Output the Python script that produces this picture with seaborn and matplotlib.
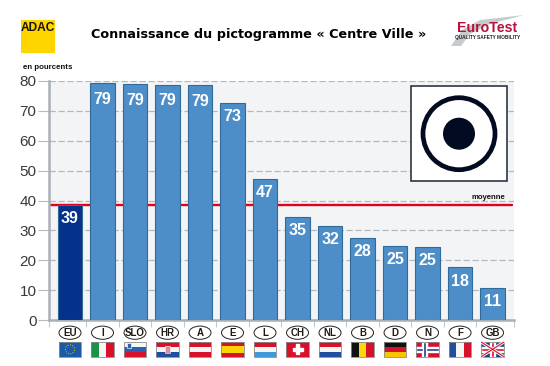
import pandas as pd
import matplotlib
matplotlib.use("Agg")
import matplotlib.pyplot as plt
from matplotlib.patches import Rectangle, Circle, Ellipse, Polygon
import seaborn as sns

# Valeurs
pays = ["EU", "I", "SLO", "HR", "A", "E", "L", "CH", "NL", "B", "D", "N", "F", "GB"]
hauteurs = [38.5, 79.3, 79.0, 78.7, 78.5, 72.8, 47.2, 34.6, 31.6, 27.6, 24.9, 24.4, 17.6, 10.8]
etiquettes = ["39", "79", "79", "79", "79", "73", "47", "35", "32", "28", "25", "25", "18", "11"]
moyenne = 38.5
yticks = [0, 10, 20, 30, 40, 50, 60, 70, 80]

titre = "Connaissance du pictogramme « Centre Ville »"

W, H = 550, 366
SANS = "Liberation Sans"

df = pd.DataFrame({"pays": pays, "valeur": hauteurs})

sns.set_theme(style="white")
plt.rcParams["font.family"] = [SANS, "DejaVu Sans"]

fig = plt.figure(figsize=(5.5, 3.66), dpi=100, facecolor="white")
ax = fig.add_axes([49 / W, 1 - 320 / H, (514 - 49) / W, (320 - 81) / H], facecolor="#F3F4F6")

couleurs = ["#04318A"] + ["#4E8EC8"] * 13
sns.barplot(data=df, x="pays", y="valeur", hue="pays", order=pays, palette=couleurs,
            legend=False, width=0.75, saturation=1, linewidth=0.8, edgecolor="#2F6A99",
            ax=ax, zorder=3)

ax.set_xlim(-0.646, 13.66)
ax.set_ylim(0, 80)
ax.set_xlabel("")
ax.set_ylabel("")
ax.set_xticks([-0.646] + [i + 0.5 for i in range(13)] + [13.66])
ax.set_xticklabels([])
ax.set_yticks(yticks)
ax.set_yticklabels(yticks, fontsize=11, color="#3A3A3A")
ax.tick_params(axis="y", length=8, width=0.8, color="#B5BBC0", pad=1, left=True)
ax.tick_params(axis="x", length=5, width=0.8, color="#C4C9CD", bottom=True)

ax.grid(axis="y", color="#B4B9BD", linestyle=(0, (5, 2.2)), linewidth=0.9, zorder=1)
ax.set_axisbelow(True)
ax.axhline(moyenne, xmin=0.003, xmax=0.996, color="#E2001A", linewidth=1.7, zorder=2)

for s in ["top", "right"]:
    ax.spines[s].set_visible(False)
for s in ["left", "bottom"]:
    ax.spines[s].set_color("#A8B0B6")
    ax.spines[s].set_linewidth(1.8)

# Etiquettes dans les barres
for i, (v, t) in enumerate(zip(hauteurs, etiquettes)):
    decalage = -6.2 if v > 75 else -4.4
    ax.annotate(t, (i, v), xytext=(0, decalage), textcoords="offset points", ha="center", va="top",
                color="white", fontsize=11.5, fontweight="bold", zorder=4)

# Calque en pixels pour logos, pictogramme et drapeaux
ov = fig.add_axes([0, 0, 1, 1])
ov.set_xlim(0, W)
ov.set_ylim(H, 0)
ov.axis("off")
ov.patch.set_alpha(0)

ov.text(23, 67.5, "en pourcents", fontsize=5.7, fontweight="bold", color="#111111", va="center")
ov.text(472, 197.7, "moyenne", fontsize=5.6, fontweight="bold", color="#111111", ha="left", va="center")
ov.text(259, 34.5, titre, fontsize=9.15, fontweight="bold", color="black", ha="center", va="center",
        family=["DejaVu Sans"])

# Logo ADAC
ov.add_patch(Rectangle((21, 20), 34, 33, facecolor="#FFD500", edgecolor="none"))
ov.text(38.2, 28, "ADAC", fontsize=8.6, fontweight="bold", ha="center", va="center", color="#15110A")

# Logo EuroTest
ov.add_patch(Polygon([(451, 46), (462, 30), (480, 20), (524, 15), (490, 24), (470, 34), (461, 46)],
                     facecolor="#C8CBCD", edgecolor="none"))
ov.text(487, 28.5, "EuroTest", fontsize=10.2, fontweight="bold", ha="center", va="center", color="#B5123E")
ov.text(487.5, 37.5, "QUALITY SAFETY MOBILITY", fontsize=3.4, fontweight="bold", ha="center", va="center", color="#222222")

# Pictogramme
nuit = "#030B22"
ov.add_patch(Rectangle((410.7, 85.7), 96, 95.3, facecolor="white", edgecolor="#1B2438", linewidth=1.1, zorder=5))
ov.add_patch(Circle((459, 133.7), 36, facecolor="none", edgecolor=nuit, linewidth=3.4, zorder=6))
ov.add_patch(Circle((459, 133.7), 16, facecolor=nuit, edgecolor="none", zorder=6))


def bandes(x, y, w, h, cols, vertical=False):
    n = len(cols)
    for k, c in enumerate(cols):
        if vertical:
            ov.add_patch(Rectangle((x + k * w / n, y), w / n, h, facecolor=c, edgecolor="none"))
        else:
            ov.add_patch(Rectangle((x, y + k * h / n), w, h / n, facecolor=c, edgecolor="none"))


rouge, bleu, blanc = "#D8112B", "#1D4E9E", "#F5F5F5"
drapeaux = {
    "EU": (["#1B5AA6"], False),
    "I": (["#1E9146", blanc, rouge], True),
    "SLO": ([blanc, "#2B5FB0", rouge], False),
    "HR": ([rouge, blanc, "#1E4E9C"], False),
    "A": ([rouge, blanc, rouge], False),
    "E": ([rouge, "#FBD500", "#FBD500", rouge], False),
    "L": ([rouge, blanc, "#3F9BD8"], False),
    "CH": ([rouge], False),
    "NL": ([rouge, blanc, "#1E4E9C"], False),
    "B": (["#111111", "#F8D80F", rouge], True),
    "D": (["#111111", rouge, "#F8C400"], False),
    "N": ([rouge], False),
    "F": (["#1E4E9C", blanc, rouge], True),
    "GB": (["#1E3F8A"], False),
}

fw, fh = 22.7, 14.7
fy = 342
for i, p in enumerate(pays):
    px, _ = ax.transData.transform((i, 0))
    cx = px * W / fig.bbox.width
    # Ovale du code pays
    ov.add_patch(Ellipse((cx, 332.7), 22, 13.2, facecolor="white", edgecolor="#222222", linewidth=0.7))
    ov.text(cx, 332.9, p, fontsize=7, fontweight="bold", ha="center", va="center", color="#1A1A1A")
    # Drapeau
    x0 = cx - fw / 2
    cols, vert = drapeaux[p]
    bandes(x0, fy, fw, fh, cols, vert)
    if p == "EU":
        ov.add_patch(Circle((cx, fy + fh / 2), 4.5, facecolor="none", edgecolor="#E8D020", linewidth=0.7, linestyle=":"))
    elif p == "SLO":
        ov.add_patch(Rectangle((x0 + 3, fy + 1), 4, 5, facecolor="#2B5FB0", edgecolor=blanc, linewidth=0.5))
    elif p == "HR":
        ov.add_patch(Rectangle((cx - 2.5, fy + 4), 5, 7, facecolor="#E08A95", edgecolor=blanc, linewidth=0.4))
    elif p == "CH":
        ov.add_patch(Rectangle((cx - 5, fy + fh / 2 - 1.6), 10, 3.2, facecolor="white"))
        ov.add_patch(Rectangle((cx - 1.6, fy + fh / 2 - 5), 3.2, 10, facecolor="white"))
    elif p == "N":
        ov.add_patch(Rectangle((x0, fy + fh / 2 - 2.6), fw, 5.2, facecolor=blanc))
        ov.add_patch(Rectangle((x0 + 5.5, fy), 5.2, fh, facecolor=blanc))
        ov.add_patch(Rectangle((x0, fy + fh / 2 - 1.3), fw, 2.6, facecolor="#1E3F8A"))
        ov.add_patch(Rectangle((x0 + 6.8, fy), 2.6, fh, facecolor="#1E3F8A"))
    elif p == "GB":
        ov.plot([x0, x0 + fw], [fy, fy + fh], color=blanc, linewidth=2.2, solid_capstyle="butt")
        ov.plot([x0, x0 + fw], [fy + fh, fy], color=blanc, linewidth=2.2, solid_capstyle="butt")
        ov.plot([x0, x0 + fw], [fy, fy + fh], color=rouge, linewidth=0.8, solid_capstyle="butt")
        ov.plot([x0, x0 + fw], [fy + fh, fy], color=rouge, linewidth=0.8, solid_capstyle="butt")
        ov.add_patch(Rectangle((x0, fy + fh / 2 - 2.6), fw, 5.2, facecolor=blanc))
        ov.add_patch(Rectangle((cx - 2.6, fy), 5.2, fh, facecolor=blanc))
        ov.add_patch(Rectangle((x0, fy + fh / 2 - 1.5), fw, 3, facecolor=rouge))
        ov.add_patch(Rectangle((cx - 1.5, fy), 3, fh, facecolor=rouge))
    ov.add_patch(Rectangle((x0, fy), fw, fh, facecolor="none", edgecolor="#8C8C8C", linewidth=0.6))

ov.set_xlim(0, W)
ov.set_ylim(H, 0)

fig.savefig("out.png", dpi=100)
